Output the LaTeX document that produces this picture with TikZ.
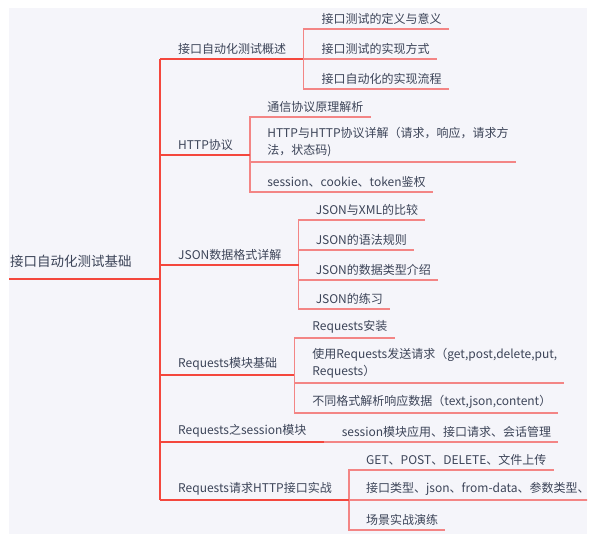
\documentclass[tikz,border=0pt]{standalone}
\usepackage{fontspec}
\setmainfont{Noto Sans CJK SC}
\definecolor{bgc}{HTML}{F5F5FA}
\definecolor{redA}{HTML}{F4473D}
\definecolor{redB}{HTML}{F38585}
\definecolor{txt}{HTML}{3C4458}
\begin{document}
\begin{tikzpicture}[x=1pt,y=-1pt,
  l0/.style={redA,line width=2pt},
  l1/.style={redA,line width=1.8pt},
  l2/.style={redB,line width=1.3pt},
  t1/.style={anchor=south west,inner xsep=0pt,inner ysep=4.5pt,text=txt,
    font=\fontsize{12}{17}\selectfont,align=left},
  t2/.style={t1},
  rootbox/.style={anchor=south west,inner xsep=0pt,inner ysep=11pt,text=txt,
    font=\fontsize{13.5}{16}\selectfont}]
\useasboundingbox (0,0) rectangle (603,557);
\fill[bgc] (9,8) rectangle (587,534);
\begin{scope}
\clip (9,8) rectangle (587,534);
% root
\node[rootbox] (r) at (10,279) {接口自动化测试基础};
\coordinate (rl) at (9,279);
\coordinate (tr) at (160,279);
\draw[l0] (rl) -- (tr);
% level 1
\node[t1] (a1) at (178,59) {接口自动化测试概述};
\node[t1] (a2) at (178,155) {HTTP协议};
\node[t1] (a3) at (178,265) {JSON数据格式详解};
\node[t1] (a4) at (178,375) {Requests模块基础};
\node[t1] (a5) at (178,442) {Requests之session模块};
\node[t1] (a6) at (178,500) {Requests请求HTTP接口实战};
\draw[l0] (tr |- a1.south) -- (tr |- a6.south);
\foreach \i in {1,...,6}{
  \coordinate (b\i) at ([xshift=17pt]a\i.south east);
}
% group 1
\node[t2] (c11) at ([xshift=18pt,yshift=30pt]b1) {接口测试的定义与意义};
\node[t2] (c12) at ([xshift=18pt]b1) {接口测试的实现方式};
\node[t2] (c13) at ([xshift=18pt,yshift=-30pt]b1) {接口自动化的实现流程};
% group 2
\node[t2] (c21) at ([xshift=17pt,yshift=38pt]b2) {通信协议原理解析};
\node[t2] (c22) at ([xshift=17pt,yshift=-7pt]b2) {HTTP与HTTP协议详解（请求，响应，请求方\\法，状态码)};
\node[t2] (c23) at ([xshift=17pt,yshift=-37pt]b2) {session、cookie、token鉴权};
% group 3
\node[t2] (c31) at ([xshift=17pt,yshift=45pt]b3) {JSON与XML的比较};
\node[t2] (c32) at ([xshift=17pt,yshift=15pt]b3) {JSON的语法规则};
\node[t2] (c33) at ([xshift=17pt,yshift=-15pt]b3) {JSON的数据类型介绍};
\node[t2] (c34) at ([xshift=17pt,yshift=-44pt]b3) {JSON的练习};
% group 4
\node[t2] (c41) at ([xshift=18pt,yshift=37pt]b4) {Requests安装};
\node[t2] (c42) at ([xshift=18pt,yshift=-8pt]b4) {使用Requests发送请求（get,post,delete,put,\\Requests）};
\node[t2] (c43) at ([xshift=18pt,yshift=-38pt]b4) {不同格式解析响应数据（text,json,content）};
% group 5
\node[t2] (c51) at ([xshift=18pt]b5) {session模块应用、接口请求、会话管理};
% group 6
\node[t2] (c61) at ([xshift=17pt,yshift=30pt]b6) {GET、POST、DELETE、文件上传};
\node[t2] (c62) at ([xshift=17pt]b6) {接口类型、json、from-data、参数类型、};
\node[t2] (c63) at ([xshift=17pt,yshift=-30pt]b6) {场景实战演练};
% level-2 connectors
\foreach \g/\n in {1/3,2/3,3/4,4/3,5/1,6/3}{
  \foreach \k in {1,...,\n}{
    \draw[l2] (b\g) |- ([xshift=7pt]c\g\k.south east);
  }
}
% level-1 connectors
\foreach \i in {1,...,6}{
  \draw[l1] (tr |- a\i.south) -- (b\i);
}
\end{scope}
\end{tikzpicture}
\end{document}
